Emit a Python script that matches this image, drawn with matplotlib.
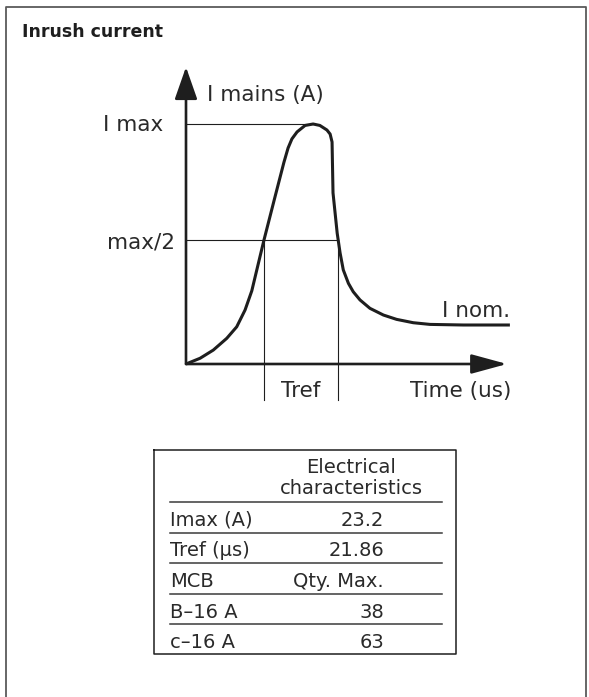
import matplotlib
matplotlib.use("Agg")
import matplotlib.pyplot as plt
from matplotlib.lines import Line2D

plt.rcParams['font.family'] = ['DejaVu Sans']

# inrush curve (time in arbitrary units, current with I max = 10)
t_curve = [0, 0.44, 0.85, 1.27, 1.58, 1.84, 2.05, 2.22, 2.43, 2.77, 3.05, 3.18,
           3.30, 3.46, 3.71, 3.96, 4.17, 4.39, 4.49, 4.55, 4.58, 4.71, 4.80, 4.90,
           5.06, 5.21, 5.42, 5.73, 6.15, 6.56, 7.08, 7.60, 8.64, 10.09]
i_curve = [0, 0.24, 0.58, 1.07, 1.55, 2.25, 3.05, 4.0, 5.17, 6.95, 8.4, 9.0,
           9.38, 9.67, 9.94, 10.0, 9.94, 9.75, 9.58, 9.25, 7.13, 5.45, 4.63, 3.92,
           3.36, 3.01, 2.67, 2.32, 2.04, 1.86, 1.72, 1.65, 1.625, 1.625]
i_max = 10.0
i_half = 5.17
t_peak = 3.96
tref_start = 2.43
tref_end = 4.72

table_labels = ['Imax (A)', 'Tref (µs)', 'MCB', 'B–16 A', 'c–16 A']
table_values = ['23.2', '21.86', 'Qty. Max.', '38', '63']

W, H = 589, 697
fig = plt.figure(figsize=(W / 100, H / 100), dpi=100)
fig.patch.set_facecolor('white')


def px(x, y):
    # pixel position (from top-left) -> figure fraction
    return x / W, 1 - y / H


# outer frame (no bottom edge)
frame_x = [6, 6, 586, 586]
frame_y = [H, 7, 7, H]
fx, fy = zip(*[px(a, b) for a, b in zip(frame_x, frame_y)])
fig.add_artist(Line2D(fx, fy, color='#5a5a5a', lw=1.3))

ink = '#1e1e1e'
fig.text(*px(22, 37), 'Inrush current', fontsize=12.5, fontweight='bold',
         color=ink, va='baseline', ha='left')

# chart area
ax = fig.add_axes([186 / W, 1 - 364 / H, (507 - 186) / W, (364 - 67) / H])
ax.set_xlim(0, 10)
ax.set_ylim(0, 12.375)
ax.axis('off')

# axes with arrow heads
ax.annotate('', xy=(10, 0), xytext=(0, 0), annotation_clip=False,
            arrowprops=dict(arrowstyle='-|>,head_length=1.1,head_width=0.3',
                            mutation_scale=20, lw=1.9, color=ink,
                            shrinkA=0, shrinkB=0))
ax.annotate('', xy=(0, 12.375), xytext=(0, 0), annotation_clip=False,
            arrowprops=dict(arrowstyle='-|>,head_length=1.0,head_width=0.35',
                            mutation_scale=20, lw=1.9, color=ink,
                            shrinkA=0, shrinkB=0))

# guide lines
ax.plot([0, t_peak], [i_max, i_max], color=ink, lw=0.8, clip_on=False)
ax.plot([0, tref_end], [i_half, i_half], color=ink, lw=0.8, clip_on=False)
ax.plot([tref_start, tref_start], [i_half, -1.5], color=ink, lw=0.8, clip_on=False)
ax.plot([tref_end, tref_end], [i_half, -1.5], color=ink, lw=0.8, clip_on=False)

ax.plot(t_curve, i_curve, color=ink, lw=2.2, solid_joinstyle='round',
        solid_capstyle='butt', clip_on=False)

txt = '#2a2a2a'
lbl = dict(fontsize=15.5, color=txt, va='baseline')
fig.text(*px(207, 101), 'I mains (A)', ha='left', **lbl)
fig.text(*px(163, 131), 'I max', ha='right', **lbl)
fig.text(*px(175, 248), 'max/2', ha='right', **lbl)
fig.text(*px(510, 317), 'I nom.', ha='right', **lbl)
fig.text(*px(301, 397), 'Tref', ha='center', **lbl)
fig.text(*px(511, 397), 'Time (us)', ha='right', **lbl)

# characteristics table
bx0, by0, bx1, by1 = 154, 450, 456, 654
bxs, bys = zip(*[px(a, b) for a, b in
                 [(bx0, by0), (bx1, by0), (bx1, by1), (bx0, by1), (bx0, by0)]])
fig.add_artist(Line2D(bxs, bys, color=ink, lw=1.1))

tbl = dict(fontsize=14, color=txt, va='baseline')
fig.text(*px(351, 473), 'Electrical', ha='center', **tbl)
fig.text(*px(351, 494), 'characteristics', ha='center', **tbl)

row_top = 502
row_h = 30.5
for k, (lab, val) in enumerate(zip(table_labels, table_values)):
    top = row_top + k * row_h
    lx, ly = zip(px(170, top), px(442, top))
    fig.add_artist(Line2D(lx, ly, color='#3a3a3a', lw=1.1))
    fig.text(*px(170, top + 24), lab, ha='left', **tbl)
    fig.text(*px(384, top + 24), val, ha='right', **tbl)

fig.savefig('out.png', dpi=100, facecolor='white')
